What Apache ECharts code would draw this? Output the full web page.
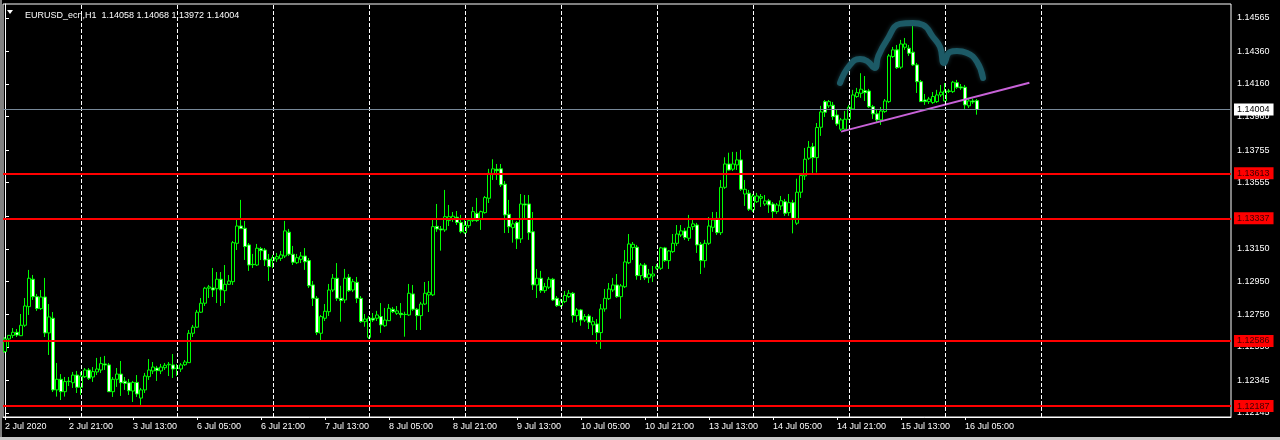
<!DOCTYPE html>
<html><head><meta charset="utf-8">
<script src="https://cdn.jsdelivr.net/npm/echarts@6/dist/echarts.min.js"></script>
<style>html,body{margin:0;padding:0;background:#000;}#c{width:1280px;height:440px;}</style>
</head><body><div id="c"></div><script>
const opens=[1.12521,1.12598,1.12620,1.12639,1.12618,1.12682,1.12796,1.12964,1.12857,1.12784,1.12855,1.12635,1.12725,1.12286,1.12351,1.12275,1.12337,1.12330,1.12377,1.12302,1.12367,1.12408,1.12365,1.12396,1.12408,1.12445,1.12439,1.12275,1.12351,1.12383,1.12339,1.12330,1.12279,1.12332,1.12236,1.12286,1.12367,1.12402,1.12420,1.12402,1.12422,1.12440,1.12439,1.12420,1.12414,1.12440,1.12453,1.12633,1.12670,1.12762,1.12817,1.12909,1.12911,1.12906,1.12964,1.12894,1.12933,1.12949,1.13184,1.13290,1.13276,1.13174,1.13055,1.13051,1.13151,1.13143,1.13086,1.13078,1.13088,1.13092,1.13106,1.13252,1.13117,1.13065,1.13086,1.13106,1.13078,1.12929,1.12847,1.12633,1.12725,1.12765,1.12898,1.12970,1.12847,1.12837,1.12976,1.12898,1.12945,1.12847,1.12704,1.12608,1.12725,1.12725,1.12735,1.12679,1.12710,1.12780,1.12755,1.12755,1.12749,1.12745,1.12874,1.12780,1.12741,1.12812,1.12868,1.12868,1.13288,1.13272,1.13266,1.13323,1.13333,1.13344,1.13311,1.13249,1.13292,1.13323,1.13368,1.13331,1.13372,1.13460,1.13609,1.13638,1.13640,1.13546,1.13362,1.13280,1.13311,1.13211,1.13425,1.13425,1.13255,1.12929,1.12970,1.12894,1.12915,1.12964,1.12847,1.12802,1.12827,1.12857,1.12878,1.12741,1.12776,1.12714,1.12739,1.12684,1.12690,1.12637,1.12782,1.12845,1.12898,1.12929,1.12857,1.12918,1.13065,1.13158,1.13160,1.12986,1.13051,1.12973,1.12984,1.13031,1.13031,1.13156,1.13078,1.13133,1.13184,1.13235,1.13260,1.13215,1.13286,1.13296,1.13178,1.13078,1.13184,1.13282,1.13337,1.13249,1.13527,1.13670,1.13638,1.13664,1.13695,1.13486,1.13491,1.13388,1.13439,1.13460,1.13425,1.13444,1.13425,1.13378,1.13413,1.13439,1.13372,1.13433,1.13307,1.13497,1.13597,1.13705,1.13776,1.13709,1.13895,1.14052,1.14026,1.14030,1.13970,1.13883,1.13883,1.13944,1.14007,1.14083,1.14103,1.14119,1.14117,1.14021,1.13977,1.13940,1.13991,1.14052,1.14328,1.14369,1.14263,1.14385,1.14379,1.14355,1.14277,1.14174,1.14062,1.14052,1.14046,1.14052,1.14093,1.14056,1.14117,1.14113,1.14168,1.14142,1.14140,1.14026,1.14056,1.14058];
const closes=[1.12598,1.12620,1.12639,1.12622,1.12682,1.12800,1.12970,1.12857,1.12784,1.12855,1.12635,1.12733,1.12286,1.12351,1.12275,1.12337,1.12339,1.12377,1.12302,1.12371,1.12408,1.12357,1.12398,1.12414,1.12447,1.12439,1.12275,1.12351,1.12383,1.12330,1.12326,1.12281,1.12332,1.12261,1.12286,1.12371,1.12408,1.12426,1.12404,1.12426,1.12437,1.12443,1.12414,1.12418,1.12439,1.12457,1.12633,1.12670,1.12762,1.12817,1.12909,1.12917,1.12898,1.12964,1.12898,1.12933,1.12953,1.13188,1.13290,1.13274,1.13164,1.13051,1.13053,1.13154,1.13139,1.13082,1.13041,1.13096,1.13102,1.13113,1.13260,1.13117,1.13068,1.13096,1.13106,1.13071,1.12924,1.12847,1.12637,1.12735,1.12768,1.12898,1.12970,1.12847,1.12833,1.12970,1.12894,1.12949,1.12847,1.12704,1.12720,1.12725,1.12714,1.12745,1.12684,1.12714,1.12786,1.12765,1.12770,1.12747,1.12748,1.12878,1.12780,1.12741,1.12812,1.12878,1.12884,1.13286,1.13272,1.13266,1.13347,1.13347,1.13350,1.13311,1.13255,1.13294,1.13323,1.13378,1.13323,1.13378,1.13464,1.13613,1.13640,1.13629,1.13542,1.13358,1.13286,1.13303,1.13211,1.13425,1.13419,1.13249,1.12929,1.12970,1.12894,1.12918,1.12964,1.12837,1.12802,1.12831,1.12864,1.12878,1.12741,1.12776,1.12714,1.12735,1.12700,1.12704,1.12637,1.12782,1.12847,1.12904,1.12929,1.12857,1.12923,1.13070,1.13180,1.13178,1.12986,1.13051,1.12973,1.12996,1.12996,1.13041,1.13156,1.13078,1.13137,1.13184,1.13241,1.13260,1.13219,1.13282,1.13303,1.13174,1.13078,1.13184,1.13290,1.13327,1.13249,1.13527,1.13670,1.13633,1.13670,1.13695,1.13515,1.13515,1.13393,1.13474,1.13474,1.13470,1.13444,1.13419,1.13378,1.13419,1.13445,1.13368,1.13433,1.13337,1.13497,1.13599,1.13699,1.13772,1.13709,1.13893,1.13989,1.13987,1.14052,1.13960,1.13915,1.13940,1.13944,1.14018,1.14093,1.14107,1.14128,1.14107,1.14021,1.13977,1.13940,1.13995,1.14056,1.14332,1.14369,1.14260,1.14405,1.14405,1.14348,1.14277,1.14174,1.14052,1.14052,1.14068,1.14083,1.14093,1.14110,1.14117,1.14115,1.14171,1.14140,1.14136,1.14032,1.14056,1.14050,1.14004];
const lows=[1.12513,1.12549,1.12604,1.12610,1.12616,1.12672,1.12745,1.12837,1.12770,1.12776,1.12610,1.12500,1.12273,1.12245,1.12224,1.12245,1.12310,1.12298,1.12267,1.12255,1.12359,1.12347,1.12335,1.12377,1.12390,1.12408,1.12273,1.12243,1.12304,1.12249,1.12286,1.12255,1.12212,1.12243,1.12194,1.12267,1.12347,1.12383,1.12341,1.12383,1.12408,1.12371,1.12359,1.12371,1.12396,1.12433,1.12451,1.12610,1.12665,1.12757,1.12800,1.12849,1.12855,1.12818,1.12800,1.12818,1.12929,1.12929,1.13143,1.13272,1.13082,1.13015,1.13033,1.13045,1.13082,1.13045,1.12953,1.13033,1.13070,1.13076,1.13094,1.13106,1.13051,1.13057,1.13063,1.13021,1.12910,1.12800,1.12622,1.12586,1.12708,1.12739,1.12886,1.12831,1.12704,1.12818,1.12886,1.12886,1.12818,1.12696,1.12673,1.12598,1.12702,1.12708,1.12635,1.12672,1.12708,1.12757,1.12745,1.12727,1.12612,1.12739,1.12770,1.12653,1.12653,1.12806,1.12763,1.12861,1.13254,1.13139,1.13254,1.13290,1.13315,1.13296,1.13245,1.13241,1.13278,1.13315,1.13315,1.13266,1.13366,1.13431,1.13572,1.13572,1.13529,1.13247,1.13247,1.13188,1.13149,1.13186,1.13327,1.13205,1.12898,1.12849,1.12880,1.12880,1.12904,1.12831,1.12794,1.12794,1.12818,1.12849,1.12698,1.12702,1.12679,1.12702,1.12659,1.12622,1.12567,1.12537,1.12765,1.12837,1.12886,1.12849,1.12722,1.12910,1.13057,1.13082,1.12961,1.12959,1.12959,1.12941,1.12947,1.13021,1.13021,1.13070,1.13027,1.13125,1.13168,1.13223,1.13205,1.13198,1.13266,1.13125,1.12996,1.13035,1.13174,1.13254,1.13235,1.13235,1.13517,1.13629,1.13627,1.13633,1.13505,1.13413,1.13382,1.13376,1.13431,1.13407,1.13413,1.13370,1.13339,1.13364,1.13388,1.13352,1.13352,1.13245,1.13296,1.13462,1.13572,1.13695,1.13615,1.13617,1.13842,1.13958,1.14013,1.13940,1.13903,1.13872,1.13872,1.13940,1.14001,1.14075,1.14075,1.14056,1.14013,1.13946,1.13927,1.13909,1.13983,1.14044,1.14320,1.14252,1.14252,1.14369,1.14332,1.14271,1.14105,1.14050,1.14032,1.14038,1.14038,1.14044,1.14081,1.14052,1.14105,1.14105,1.14130,1.14124,1.14001,1.14013,1.14038,1.13972];
const highs=[1.12610,1.12622,1.12665,1.12659,1.12751,1.12849,1.13021,1.12990,1.12874,1.12898,1.12972,1.12812,1.12763,1.12451,1.12383,1.12365,1.12365,1.12396,1.12402,1.12396,1.12420,1.12420,1.12426,1.12482,1.12488,1.12494,1.12451,1.12365,1.12420,1.12463,1.12365,1.12353,1.12341,1.12377,1.12298,1.12390,1.12475,1.12457,1.12433,1.12445,1.12451,1.12457,1.12506,1.12445,1.12451,1.12469,1.12653,1.12684,1.12776,1.12849,1.12917,1.12929,1.13033,1.13008,1.13008,1.13051,1.12990,1.13198,1.13333,1.13450,1.13321,1.13186,1.13119,1.13180,1.13162,1.13155,1.13119,1.13113,1.13125,1.13137,1.13321,1.13272,1.13168,1.13119,1.13131,1.13155,1.13094,1.12953,1.12861,1.12745,1.12812,1.12935,1.12996,1.13063,1.12924,1.13027,1.12996,1.12966,1.12978,1.12861,1.12751,1.12739,1.12757,1.12770,1.12818,1.12788,1.12812,1.12794,1.12800,1.12818,1.12765,1.12935,1.12929,1.12788,1.12825,1.12947,1.12953,1.13327,1.13425,1.13290,1.13511,1.13419,1.13376,1.13382,1.13358,1.13327,1.13333,1.13407,1.13462,1.13384,1.13474,1.13640,1.13699,1.13670,1.13670,1.13566,1.13450,1.13327,1.13321,1.13486,1.13480,1.13480,1.13376,1.13027,1.13015,1.12941,1.12978,1.12972,1.12861,1.12843,1.12892,1.12898,1.12886,1.12788,1.12782,1.12751,1.12751,1.12733,1.12720,1.12812,1.12904,1.12941,1.12972,1.12996,1.12935,1.13143,1.13241,1.13192,1.13174,1.13063,1.13063,1.13027,1.13045,1.13057,1.13162,1.13162,1.13143,1.13241,1.13296,1.13296,1.13278,1.13358,1.13327,1.13309,1.13192,1.13205,1.13345,1.13376,1.13376,1.13572,1.13711,1.13739,1.13744,1.13744,1.13756,1.13572,1.13511,1.13486,1.13493,1.13486,1.13480,1.13456,1.13437,1.13431,1.13474,1.13456,1.13486,1.13450,1.13580,1.13609,1.13768,1.13811,1.13799,1.13921,1.14026,1.14062,1.14062,1.14050,1.14001,1.13952,1.13995,1.14032,1.14124,1.14136,1.14226,1.14209,1.14130,1.14032,1.14007,1.14019,1.14068,1.14344,1.14387,1.14399,1.14430,1.14442,1.14399,1.14522,1.14289,1.14185,1.14099,1.14081,1.14111,1.14124,1.14154,1.14166,1.14130,1.14179,1.14185,1.14160,1.14154,1.14068,1.14070,1.14068];

const xTickLabels=['2 Jul 2020','2 Jul 21:00','3 Jul 13:00','6 Jul 05:00','6 Jul 21:00','7 Jul 13:00','8 Jul 05:00','8 Jul 21:00','9 Jul 13:00','10 Jul 05:00','10 Jul 21:00','13 Jul 13:00','14 Jul 05:00','14 Jul 21:00','15 Jul 13:00','16 Jul 05:00'];
const barsPerLabel=16;
const dayStarts=[19,43,67,91,115,139,163,187,211,235,259];
const priceTicks=[1.12145,1.12345,1.12550,1.12750,1.12950,1.13150,1.13350,1.13555,1.13755,1.13960,1.14160,1.14360,1.14565];
const levelLines=[1.13613,1.13337,1.12586,1.12187];
const lastPrice=1.14004;
const trendLine=[[209,1.13868],[256.1,1.14168]];
const hsCurve=[[208.75,1.14166],[211.25,1.14277],[213.75,1.14313],[215.5,1.14301],[217.5,1.14258],[218.25,1.14326],[220.5,1.14430],[223.75,1.14528],[227,1.14534],[229.5,1.14522],[232,1.14448],[233.75,1.14387],[234.75,1.14289],[236.25,1.14356],[238,1.14362],[240.5,1.14350],[243,1.14295],[244.5,1.14197]];
const nSlots=307;
const yMin=1.12120, yMax=1.14650;

const FONT='Liberation Sans';
const cats=[];for(let i=0;i<nSlots;i++)cats.push(String(i));
const candles=opens.map((o,i)=>{const c=closes[i];return [o,c,Math.min(lows[i],o,c),Math.max(highs[i],o,c)];});
const showLab=(idx)=>idx%barsPerLabel===0 && idx/barsPerLabel<xTickLabels.length;
const last=opens.length-1;
const priceLabel=(bg,fg)=>({show:true,position:'end',distance:3,formatter:(p)=>Number(p.value).toFixed(5),color:fg,backgroundColor:bg,padding:[2,4,1,3],fontSize:9,fontFamily:FONT});

const hLines=[{yAxis:lastPrice,lineStyle:{color:'#778899',width:1,type:'solid'},label:priceLabel('#fff','#000')}]
  .concat(levelLines.map(v=>({yAxis:v,lineStyle:{color:'#ff0000',width:2,type:'solid'},label:priceLabel('#ff0000','#400000')})));

const chart=echarts.init(document.getElementById('c'),null,{renderer:'canvas'});
chart.setOption({
  animation:false,
  backgroundColor:'#000',
  title:{text:'EURUSD_ecn,H1  '+[opens[last],highs[last],lows[last],closes[last]].map(v=>v.toFixed(5)).join(' '),left:20,top:6,textStyle:{color:'#fff',fontSize:9,fontWeight:'normal',fontFamily:FONT}},
  graphic:[
    {type:'polygon',shape:{points:[[7,10],[13,10],[10,14]]},style:{fill:'#fff'}},
    {type:'rect',shape:{x:0,y:0,width:2,height:440},style:{fill:'#808080'},z:10},
    {type:'rect',shape:{x:0,y:437,width:1280,height:3},style:{fill:'#c8c8c8'},z:10}
  ],
  grid:{left:3,top:4,width:1228,height:413,show:true,borderColor:'#fff',borderWidth:1,backgroundColor:'#000'},
  xAxis:[{type:'category',data:cats,boundaryGap:true,
     axisLine:{show:true,lineStyle:{color:'#fff'}},
     axisTick:{show:true,interval:(i)=>showLab(i),alignWithLabel:true,length:3,lineStyle:{color:'#fff'}},
     axisLabel:{interval:(i)=>showLab(i),formatter:(v,i)=>xTickLabels[i/barsPerLabel]||'',align:'left',color:'#fff',fontSize:9,fontFamily:FONT,margin:5},
     splitLine:{show:false}},
    {type:'value',min:-0.5,max:nSlots-0.5,show:false}],
  yAxis:{type:'value',position:'right',min:yMin,max:yMax,scale:true,
     axisLine:{show:true,lineStyle:{color:'#fff'}},
     axisTick:{show:true,customValues:priceTicks,length:4,lineStyle:{color:'#fff'}},
     axisLabel:{customValues:priceTicks,formatter:(v)=>v.toFixed(5),color:'#fff',fontSize:9,fontFamily:FONT,margin:6},
     splitLine:{show:false}},
  series:[
    {type:'line',xAxisIndex:1,data:[],z:1,silent:true,
     markLine:{silent:true,symbol:'none',label:{show:false},lineStyle:{color:'#fff',type:[4,2],width:1},data:dayStarts.map(d=>({xAxis:d}))}},
    {type:'candlestick',xAxisIndex:0,data:candles,barWidth:3,z:2,
     itemStyle:{color:'#000',color0:'#fff',borderColor:'#00ff00',borderColor0:'#00ff00',borderWidth:1},
     markLine:{silent:true,symbol:'none',precision:5,data:hLines}},
    {type:'line',xAxisIndex:1,data:trendLine,z:4,symbol:'none',silent:true,lineStyle:{color:'#c862d8',width:2}},
    {type:'line',xAxisIndex:1,data:hsCurve,z:5,symbol:'none',smooth:0.5,silent:true,
     lineStyle:{color:'#1c5a66',width:6,cap:'round',join:'round',shadowBlur:4,shadowColor:'rgba(40,90,100,0.6)'}}
  ]
});
</script></body></html>
